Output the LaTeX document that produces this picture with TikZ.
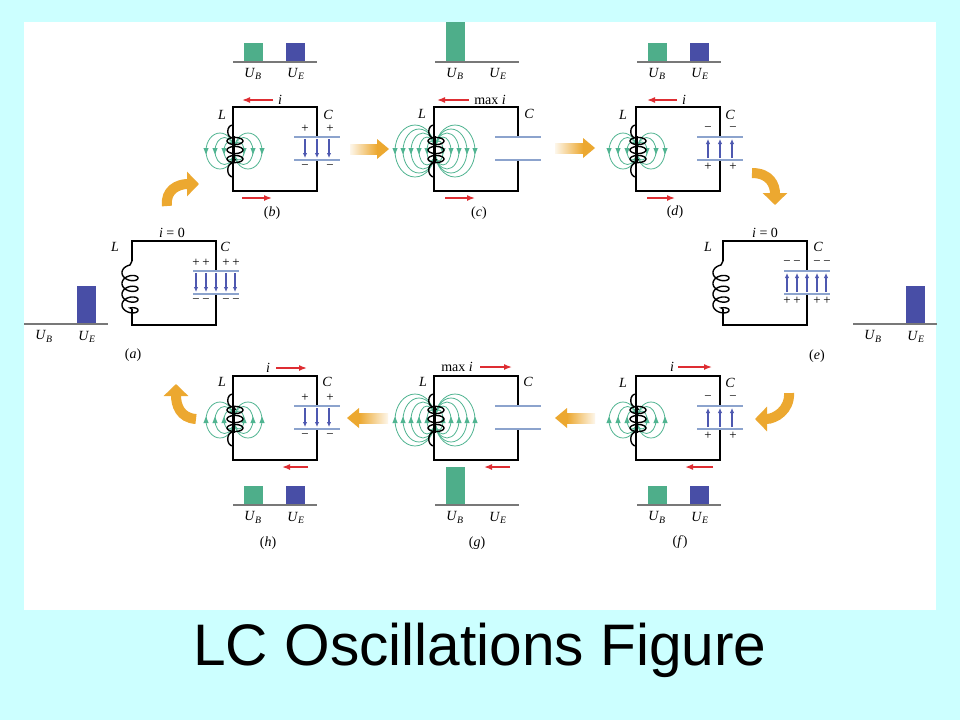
\documentclass[tikz,border=0pt]{standalone}
\usepackage{fontspec}
\setmainfont{Liberation Serif}
\newfontfamily\titlefont{Liberation Sans}
\usetikzlibrary{arrows.meta,positioning}

\definecolor{slidebg}{RGB}{204,255,255}
\definecolor{bargreen}{RGB}{78,174,138}
\definecolor{barblue}{RGB}{72,78,166}
\definecolor{bcol}{RGB}{80,180,145}
\definecolor{platecol}{RGB}{140,163,205}
\definecolor{efcol}{RGB}{78,88,176}
\definecolor{curred}{RGB}{222,45,50}
\definecolor{flowor}{RGB}{236,168,48}
\definecolor{axisgray}{RGB}{120,120,120}

\tikzset{
    wire/.style={black, line width=1.6pt},
    coilwire/.style={black, line width=1.4pt},
    plate/.style={platecol, line width=2.6pt},
    efarrow/.style={efcol, line width=1.1pt, -{Latex[length=5pt,width=4.5pt]}},
    curarrow/.style={curred, line width=1.5pt, -{Latex[length=8pt,width=6pt]}},
    bline/.style={bcol, line width=0.8pt},
    axisline/.style={axisgray, line width=1.6pt},
    lbl/.style={font=\fontsize{14}{16}\selectfont, inner sep=0pt},
    sgn/.style={font=\fontsize{13}{15}\selectfont, inner sep=0pt},
    flow/.style={flowor, line width=10pt, -{Triangle[length=12pt,width=24pt]}},
    pics/lcframe/.style={code={
        \draw[wire] (0,20) -- (0,0) -- (84,0) -- (84,30);
        \draw[wire] (84,53) -- (84,84) -- (0,84) -- (0,68);
        \draw[plate] (61,30) -- (107,30);
        \draw[plate] (61,53) -- (107,53);
    }},
    pics/flatcoil/.style={code={
        \draw[coilwire] (0,20) -- (-2,24)
            -- plot[domain=0:25.13, samples=200, variable=\t] ({-2-8*sin(\t r)}, {29+1.71*\t-5*cos(\t r)})
            -- (0,68);
    }},
    pics/solcoil/.style={code={
        \draw[wire] (0,20) -- (0,68);
        \draw[coilwire] (0,18) .. controls (-7,18) and (-7,31) .. (0,31);
        \draw[coilwire] (0,56) .. controls (-7,56) and (-7,70) .. (0,70);
        \foreach \ey in {34,43,52}
            \draw[coilwire] (2,\ey) ellipse[x radius=8, y radius=3.6];
        \draw[black, line width=2pt, -{Latex[length=5pt,width=5pt]}] (1,{43-14*(#1)}) -- (1,{43+14*(#1)});
    }},
    pics/bloops/.style n args={2}{code={
        \foreach \ra/\rb in {#1} {
            \draw[bline] ({1-\ra},44) ellipse[x radius=\ra, y radius=\rb];
            \draw[bline] ({1+\ra},44) ellipse[x radius=\ra, y radius=\rb];
            \fill[bcol] ({1-2*\ra},{44+3.5*(#2)}) -- ++(-2.6,{-6.5*(#2)}) -- ++(5.2,0) -- cycle;
            \fill[bcol] ({1+2*\ra},{44+3.5*(#2)}) -- ++(-2.6,{-6.5*(#2)}) -- ++(5.2,0) -- cycle;
        }
    }},
    pics/efield/.style n args={2}{code={
        \foreach \ex in {#1}
            \draw[efarrow] (\ex,{41.5-9.5*(#2)}) -- (\ex,{41.5+9.5*(#2)});
    }},
    pics/energybar/.style n args={2}{code={
        \fill[bargreen] (11,0) rectangle (30,{-(#1)});
        \fill[barblue] (53,0) rectangle (72,{-(#2)});
        \draw[axisline] (0,0) -- (84,0);
        \node[lbl] (-ub) at (20,12.5) {\textit{U}\textsubscript{\textit{B}}};
        \node[lbl] (-ue) at (63,12.5) {\textit{U}\textsubscript{\textit{E}}};
    }}
}

\begin{document}
\begin{tikzpicture}[x=1pt, y=-1pt]
    \useasboundingbox (0,0) rectangle (960,720);
    \fill[slidebg] (0,0) rectangle (960,720);
    \fill[white] (24,22) rectangle (936,610);

    % (a) capacitor full, i = 0
    \begin{scope}[shift={(132,241)}]
        \pic at (0,0) {lcframe};
        \pic at (0,0) {flatcoil};
        \pic at (0,0) {efield={64,74,84,94,103}{1}};
        \foreach \sx in {64,74,94,104} {
            \node[sgn] (pa\sx) at (\sx,22) {+};
            \node[sgn] (ma\sx) at (\sx,60) {−};
        }
        \node[lbl] (La) at (-17,6) {\textit{L}};
        \node[lbl] (Ca) at (93,6) {\textit{C}};
        \node[lbl] (ia) at (40,-8) {\textit{i} = 0};
    \end{scope}
    \pic (bara) at (24,324) {energybar={0}{38}};
    \node[lbl] (capa) at (133,355) {(\textit{a})};

    % (b)
    \begin{scope}[shift={(233,107)}]
        \pic at (0,0) {bloops={5/9,9.5/13.5,14/18}{1}};
        \pic at (0,0) {lcframe};
        \pic at (0,0) {solcoil=1};
        \pic at (0,0) {efield={72,84,96}{1}};
        \foreach \sx in {72,97} {
            \node[sgn] (pb\sx) at (\sx,22) {+};
            \node[sgn] (mb\sx) at (\sx,60) {−};
        }
        \node[lbl] (Lb) at (-11,8) {\textit{L}};
        \node[lbl] (Cb) at (95,8) {\textit{C}};
        \node[lbl] (ib) at (47,-7) {\textit{i}};
        \draw[curarrow] (40,-7) -- (9,-7);
        \draw[curarrow] (9,91) -- (39,91);
    \end{scope}
    \pic (barb) at (233,61.7) {energybar={19}{19}};
    \node[lbl] (capb) at (272,213) {(\textit{b})};

    % (c) all energy in the coil
    \begin{scope}[shift={(434,107)}]
        \pic at (0,0) {bloops={4/10,8/14,12/18,16/22,20/26}{1}};
        \pic at (0,0) {lcframe};
        \pic at (0,0) {solcoil=1};
        \node[lbl] (Lc) at (-12,7) {\textit{L}};
        \node[lbl] (Cc) at (95,7) {\textit{C}};
        \node[lbl] (ic) at (56,-7) {max \textit{i}};
        \draw[curarrow] (35,-7) -- (3,-7);
        \draw[curarrow] (11,91) -- (41,91);
    \end{scope}
    \pic (barc) at (435,61.7) {energybar={39.7}{0}};
    \node[lbl] (capc) at (479,213) {(\textit{c})};

    % (d)
    \begin{scope}[shift={(636,107)}]
        \pic at (0,0) {bloops={5/9,9.5/13.5,14/18}{1}};
        \pic at (0,0) {lcframe};
        \pic at (0,0) {solcoil=1};
        \pic at (0,0) {efield={72,84,96}{-1}};
        \foreach \sx in {72,97} {
            \node[sgn] (md\sx) at (\sx,22) {−};
            \node[sgn] (pd\sx) at (\sx,60) {+};
        }
        \node[lbl] (Ld) at (-13,8) {\textit{L}};
        \node[lbl] (Cd) at (94,8) {\textit{C}};
        \node[lbl] (id) at (48,-7) {\textit{i}};
        \draw[curarrow] (41,-7) -- (11,-7);
        \draw[curarrow] (11,91) -- (39,91);
    \end{scope}
    \pic (bard) at (637,61.7) {energybar={19}{19}};
    \node[lbl] (capd) at (675,212) {(\textit{d})};

    % (e) capacitor full again, reversed
    \begin{scope}[shift={(723,241)}]
        \pic at (0,0) {lcframe};
        \pic at (0,0) {flatcoil};
        \pic at (0,0) {efield={64,74,84,94,103}{-1}};
        \foreach \sx in {64,74,94,104} {
            \node[sgn] (me\sx) at (\sx,22) {−};
            \node[sgn] (pe\sx) at (\sx,60) {+};
        }
        \node[lbl] (Le) at (-15,6) {\textit{L}};
        \node[lbl] (Ce) at (95,6) {\textit{C}};
        \node[lbl] (ie) at (42,-8) {\textit{i} = 0};
    \end{scope}
    \pic (bare) at (853,324) {energybar={0}{38}};
    \node[lbl] (cape) at (817,356) {(\textit{e})};

    % (f)
    \begin{scope}[shift={(636,376)}]
        \pic at (0,0) {bloops={5/9,9.5/13.5,14/18}{-1}};
        \pic at (0,0) {lcframe};
        \pic at (0,0) {solcoil=-1};
        \pic at (0,0) {efield={72,84,96}{-1}};
        \foreach \sx in {72,97} {
            \node[sgn] (mf\sx) at (\sx,22) {−};
            \node[sgn] (pf\sx) at (\sx,60) {+};
        }
        \node[lbl] (Lf) at (-13,7) {\textit{L}};
        \node[lbl] (Cf) at (94,7) {\textit{C}};
        \node[lbl] (if) at (36,-9) {\textit{i}};
        \draw[curarrow] (42,-9) -- (76,-9);
        \draw[curarrow] (77,91) -- (49,91);
    \end{scope}
    \pic (barf) at (637,505) {energybar={19}{19}};
    \node[lbl] (capf) at (680,542) {(\textit{f})};

    % (g) all energy in the coil, reversed
    \begin{scope}[shift={(434,376)}]
        \pic at (0,0) {bloops={4/10,8/14,12/18,16/22,20/26}{-1}};
        \pic at (0,0) {lcframe};
        \pic at (0,0) {solcoil=-1};
        \node[lbl] (Lg) at (-11,6) {\textit{L}};
        \node[lbl] (Cg) at (94,6) {\textit{C}};
        \node[lbl] (ig) at (23,-9) {max \textit{i}};
        \draw[curarrow] (46,-9) -- (78,-9);
        \draw[curarrow] (76,91) -- (50,91);
    \end{scope}
    \pic (barg) at (435,505) {energybar={38}{0}};
    \node[lbl] (capg) at (477,543) {(\textit{g})};

    % (h)
    \begin{scope}[shift={(233,376)}]
        \pic at (0,0) {bloops={5/9,9.5/13.5,14/18}{-1}};
        \pic at (0,0) {lcframe};
        \pic at (0,0) {solcoil=-1};
        \pic at (0,0) {efield={72,84,96}{1}};
        \foreach \sx in {72,97} {
            \node[sgn] (ph\sx) at (\sx,22) {+};
            \node[sgn] (mh\sx) at (\sx,60) {−};
        }
        \node[lbl] (Lh) at (-11,6) {\textit{L}};
        \node[lbl] (Ch) at (94,6) {\textit{C}};
        \node[lbl] (ih) at (35,-8) {\textit{i}};
        \draw[curarrow] (43,-8) -- (74,-8);
        \draw[curarrow] (75,91) -- (49,91);
    \end{scope}
    \pic (barh) at (233,505) {energybar={19}{19}};
    \node[lbl] (caph) at (268,543) {(\textit{h})};

    % flow of the cycle
    \coordinate (fab0) at (167,206);
    \coordinate (fab1) at (199,184);
    \coordinate (fde0) at (752,173);
    \coordinate (fde1) at (775,205);
    \coordinate (fef0) at (789,393);
    \coordinate (fef1) at (755,419);
    \coordinate (fha0) at (196,419);
    \coordinate (fha1) at (176,384);
    \draw[flow] (fab0) .. controls (165,190) and (178,184) .. (fab1);
    \draw[flow] (fde0) .. controls (770,173) and (775,185) .. (fde1);
    \draw[flow] (fef0) .. controls (790,410) and (775,419) .. (fef1);
    \draw[flow] (fha0) .. controls (180,418) and (176,405) .. (fha1);

    \shade[left color=flowor!10, right color=flowor] (350,144) rectangle (377,154);
    \fill[flowor] (377,139) -- (389,149) -- (377,159) -- cycle;
    \shade[left color=flowor!10, right color=flowor] (555,143) rectangle (583,153);
    \fill[flowor] (583,138) -- (595,148) -- (583,158) -- cycle;
    \shade[left color=flowor, right color=flowor!10] (567,413) rectangle (595,423);
    \fill[flowor] (567,408) -- (555,418) -- (567,428) -- cycle;
    \shade[left color=flowor, right color=flowor!10] (359,413) rectangle (388,423);
    \fill[flowor] (359,408) -- (347,418) -- (359,428) -- cycle;

    \node[font=\titlefont\fontsize{58.6}{70}\selectfont, anchor=base, inner sep=0pt] (title) at (480,665) {LC Oscillations Figure};
\end{tikzpicture}
\end{document}
